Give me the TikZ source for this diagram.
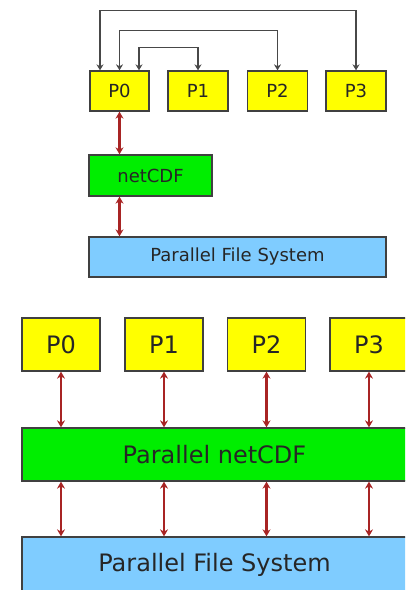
\documentclass[tikz,border=0pt]{standalone}
\usepackage{fontspec}
\setmainfont{DejaVu Sans}
\usetikzlibrary{arrows.meta}
\definecolor{pyellow}{HTML}{FFFF00}
\definecolor{pgreen}{HTML}{00EE00}
\definecolor{pblue}{HTML}{7FCCFF}
\definecolor{pred}{HTML}{A82424}
\definecolor{pborder}{HTML}{404040}
\definecolor{pgray}{HTML}{484848}
\tikzset{
  box/.style={draw=pborder, line width=1.3pt, inner sep=0pt, anchor=center, text=black!85},
  smallbox/.style={box, font=\fontsize{18}{20}\selectfont},
  bigbox/.style={box, font=\fontsize{24}{26}\selectfont},
  conn/.style={draw=pgray, line width=1.6pt, {Stealth[length=6pt,width=7pt]}-{Stealth[length=6pt,width=7pt]}},
  redarrow/.style={draw=pred, line width=2.2pt, {Stealth[length=7pt,width=8pt]}-{Stealth[length=7pt,width=8pt]}}
}
\begin{document}
\begin{tikzpicture}[x=1pt,y=-1pt]
\useasboundingbox (0,0) rectangle (405,590);
\clip (0,0) rectangle (405,590);
% top section
\node[smallbox, fill=pyellow, minimum width=59pt, minimum height=40pt] (tp0) at (119.5,91) {P0};
\node[smallbox, fill=pyellow, minimum width=60pt, minimum height=40pt] (tp1) at (198,91) {P1};
\node[smallbox, fill=pyellow, minimum width=60pt, minimum height=40pt] (tp2) at (277.5,91) {P2};
\node[smallbox, fill=pyellow, minimum width=60pt, minimum height=40pt] (tp3) at (356,91) {P3};
\node[smallbox, fill=pgreen, minimum width=123pt, minimum height=41pt] (tnc) at (150.5,175.5) {netCDF};
\node[smallbox, fill=pblue, minimum width=297pt, minimum height=40pt] (tpfs) at (237.5,257) {Parallel File System};
\draw[conn] ([xshift=-19.5pt]tp0.north) -- ++(0,-60) -| (tp3.north);
\draw[conn] (tp0.north) -- ++(0,-40) -| (tp2.north);
\draw[conn] ([xshift=19.5pt]tp0.north) -- ++(0,-23) -| (tp1.north);
\draw[redarrow] (tp0.south) -- (tp0.south |- tnc.north);
\draw[redarrow] (tp0.south |- tnc.south) -- (tp0.south |- tpfs.north);
% bottom section
\node[bigbox, fill=pyellow, minimum width=78pt, minimum height=53pt] (bp0) at (61,344.5) {P0};
\node[bigbox, fill=pyellow, minimum width=78pt, minimum height=53pt] (bp1) at (164,344.5) {P1};
\node[bigbox, fill=pyellow, minimum width=78pt, minimum height=53pt] (bp2) at (266.5,344.5) {P2};
\node[bigbox, fill=pyellow, minimum width=78pt, minimum height=53pt] (bp3) at (369,344.5) {P3};
\node[bigbox, fill=pgreen, minimum width=385pt, minimum height=53pt] (bnc) at (214.5,454.5) {Parallel netCDF};
\node[bigbox, fill=pblue, minimum width=385pt, minimum height=55pt] (bpfs) at (214.5,564.5) {Parallel File System};
\foreach \p in {bp0,bp1,bp2,bp3} {
  \draw[redarrow] (\p.south) -- (\p.south |- bnc.north);
  \draw[redarrow] (\p.south |- bnc.south) -- (\p.south |- bpfs.north);
}
\end{tikzpicture}
\end{document}
